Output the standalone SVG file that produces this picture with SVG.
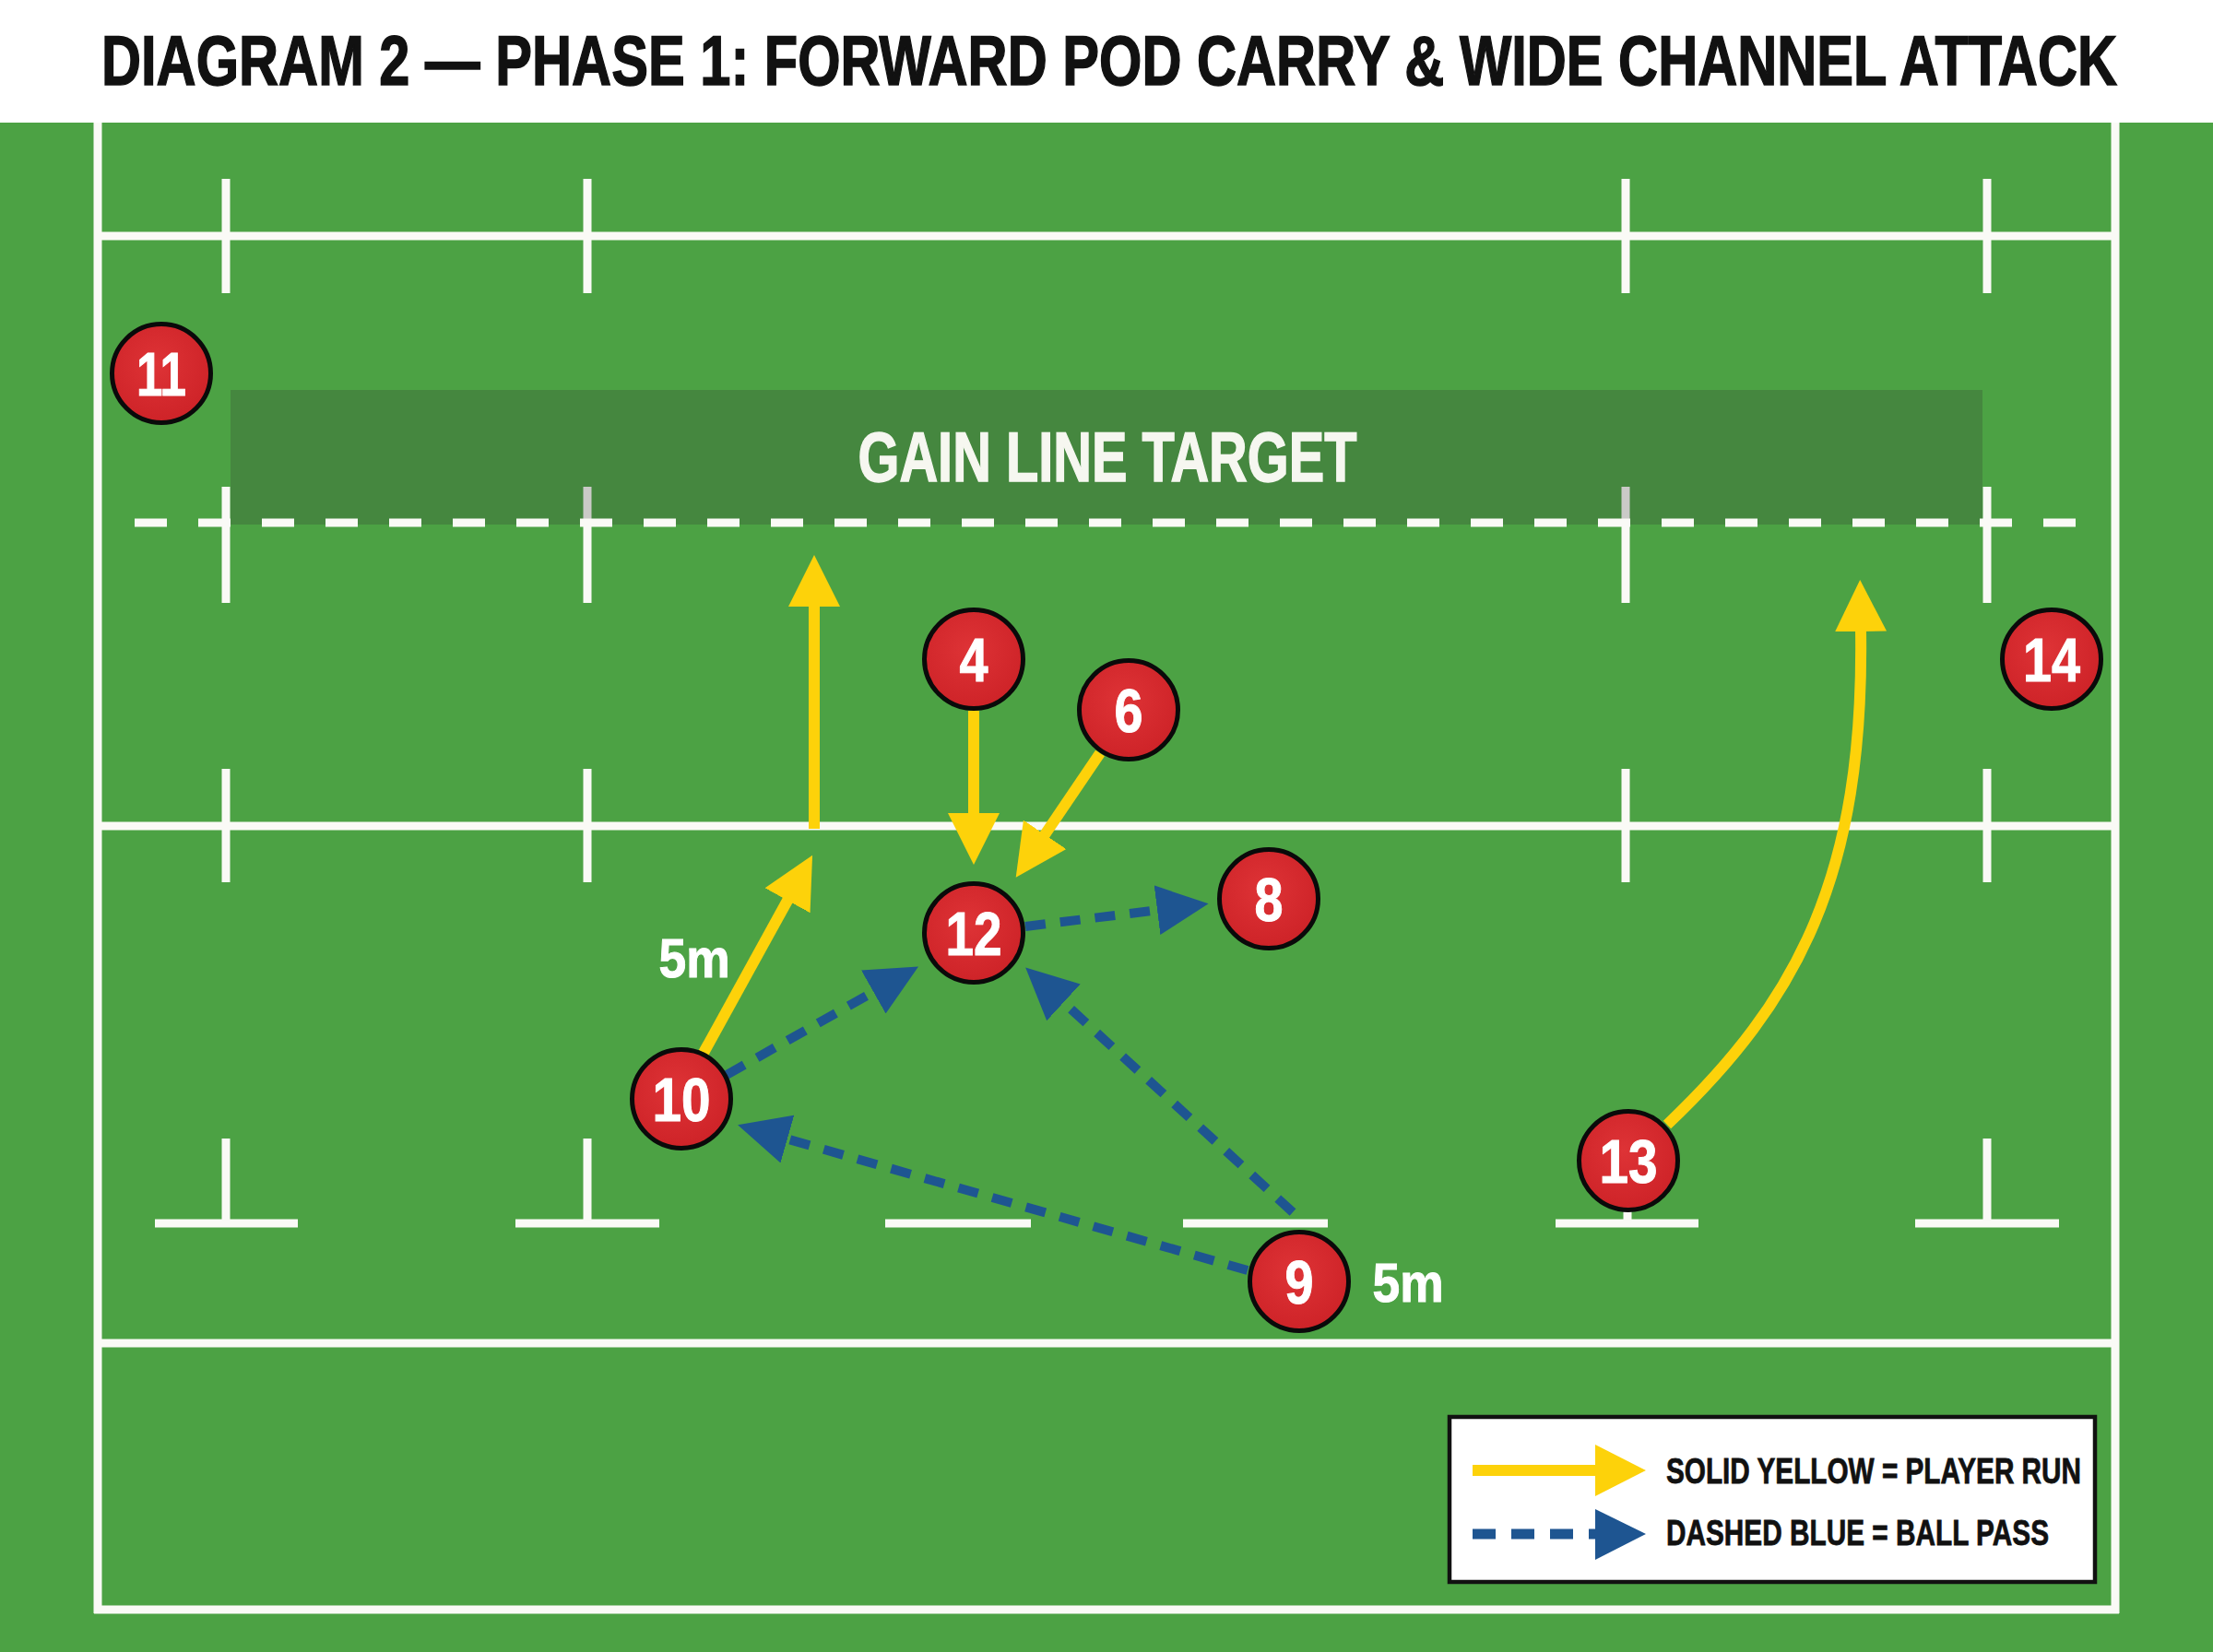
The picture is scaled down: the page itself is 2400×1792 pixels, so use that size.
<svg xmlns="http://www.w3.org/2000/svg" width="2400" height="1792" viewBox="0 0 2400 1792">
  <defs>
    <style>
      .fl { stroke: #FAFAF6; stroke-width: 9; fill: none; }
      .cond { font-family: 'Liberation Sans Narrow', 'Liberation Sans', Arial, sans-serif; font-weight: bold; }
      .num { font-size: 66px; fill: #FFFFFF; stroke: #FFFFFF; stroke-width: 1; text-anchor: middle; }
      .pc { fill: url(#redg); stroke: #0A0A0A; stroke-width: 5; }
      .run { stroke: #FDD20A; stroke-width: 12; fill: none; marker-end: url(#ahY); }
      .pass { stroke: #1E5591; stroke-width: 10; fill: none; stroke-dasharray: 22 16; marker-end: url(#ahB); }
      .lbl { font-size: 59px; fill: #FFFFFF; stroke: #FFFFFF; stroke-width: 1; text-anchor: middle; }
      .leg { font-size: 38px; fill: #111111; stroke: #111111; stroke-width: 0.8; }
    </style>
    <radialGradient id="redg" cx="0.45" cy="0.4" r="0.6">
      <stop offset="0" stop-color="#DE3336"/>
      <stop offset="1" stop-color="#CE2328"/>
    </radialGradient>
    <marker id="ahY" markerUnits="userSpaceOnUse" markerWidth="56" markerHeight="56" viewBox="0 0 56 56" refX="2" refY="28" orient="auto">
      <path d="M0,0 L56,28 L0,56 z" fill="#FDD20A"/>
    </marker>
    <marker id="ahB" markerUnits="userSpaceOnUse" markerWidth="56" markerHeight="56" viewBox="0 0 56 56" refX="2" refY="28" orient="auto">
      <path d="M0,1 L56,28 L0,55 z" fill="#1E5591"/>
    </marker>
  </defs>

  <!-- Title band -->
  <rect x="0" y="0" width="2400" height="133" fill="#FFFFFF"/>
  <text class="cond" x="1203" y="92" font-size="76" fill="#111111" stroke="#111111" stroke-width="1.5" text-anchor="middle" textLength="2186" lengthAdjust="spacingAndGlyphs">DIAGRAM 2 — PHASE 1: FORWARD POD CARRY &amp; WIDE CHANNEL ATTACK</text>

  <!-- Pitch -->
  <rect x="0" y="133" width="2400" height="1659" fill="#4CA244"/>
  <g id="pitch-lines">
    <line class="fl" x1="106" y1="133" x2="106" y2="1750"/>
    <line class="fl" x1="2294" y1="133" x2="2294" y2="1750"/>
    <line class="fl" x1="102" y1="1746" x2="2298" y2="1746"/>
    <line class="fl" x1="106" y1="256" x2="2294" y2="256"/>
    <line class="fl" x1="106" y1="896" x2="2294" y2="896"/>
    <line class="fl" x1="106" y1="1457" x2="2294" y2="1457"/>
    <line class="fl" x1="245" y1="194" x2="245" y2="318"/>
    <line class="fl" x1="637" y1="194" x2="637" y2="318"/>
    <line class="fl" x1="1763" y1="194" x2="1763" y2="318"/>
    <line class="fl" x1="2155" y1="194" x2="2155" y2="318"/>
    <line class="fl" x1="245" y1="528" x2="245" y2="654"/>
    <line class="fl" x1="637" y1="528" x2="637" y2="654"/>
    <line class="fl" x1="1763" y1="528" x2="1763" y2="654"/>
    <line class="fl" x1="2155" y1="528" x2="2155" y2="654"/>
    <line class="fl" x1="245" y1="834" x2="245" y2="957"/>
    <line class="fl" x1="637" y1="834" x2="637" y2="957"/>
    <line class="fl" x1="1763" y1="834" x2="1763" y2="957"/>
    <line class="fl" x1="2155" y1="834" x2="2155" y2="957"/>
    <line class="fl" x1="245" y1="1235" x2="245" y2="1327"/>
    <line class="fl" x1="168" y1="1327" x2="323" y2="1327"/>
    <line class="fl" x1="637" y1="1235" x2="637" y2="1327"/>
    <line class="fl" x1="559" y1="1327" x2="715" y2="1327"/>
    <line class="fl" x1="960" y1="1327" x2="1118" y2="1327"/>
    <line class="fl" x1="1283" y1="1327" x2="1440" y2="1327"/>
    <line class="fl" x1="1765" y1="1235" x2="1765" y2="1327"/>
    <line class="fl" x1="1687" y1="1327" x2="1842" y2="1327"/>
    <line class="fl" x1="2155" y1="1235" x2="2155" y2="1327"/>
    <line class="fl" x1="2077" y1="1327" x2="2233" y2="1327"/>
  </g>

  <!-- Gain line target zone -->
  <g id="gain-line">
    <rect x="250" y="423" width="1900" height="146" fill="#333333" fill-opacity="0.24"/>
    <line x1="146" y1="567" x2="2256" y2="567" stroke="#FAFAF6" stroke-width="9" stroke-dasharray="35 34"/>
    <text class="cond" x="1201" y="522" font-size="76" fill="#F6F7F0" stroke="#F6F7F0" stroke-width="1.5" text-anchor="middle" textLength="541" lengthAdjust="spacingAndGlyphs">GAIN LINE TARGET</text>
  </g>

  <!-- Connectors -->
  <g id="connectors">
    <path class="run" d="M883,899 L883,656"/>
    <path class="run" d="M763,1142 L855,975"/>
    <path class="run" d="M1056,771 L1056,884"/>
    <path class="run" d="M1193,817 L1132,907"/>
    <path class="run" d="M1808,1220 C1950,1085 2022,950 2018,683"/>
    <path class="pass" d="M1112,1005 L1257,987"/>
    <path class="pass" d="M788,1166 L949,1075"/>
    <path class="pass" d="M1402,1315 L1152,1086"/>
    <path class="pass" d="M1353,1378 L852,1235"/>
  </g>

  <!-- Distance labels -->
  <text class="cond lbl" x="753" y="1060" textLength="77" lengthAdjust="spacingAndGlyphs">5m</text>
  <text class="cond lbl" x="1527" y="1412" textLength="77" lengthAdjust="spacingAndGlyphs">5m</text>

  <!-- Players -->
  <g id="p11"><circle class="pc" cx="175" cy="405" r="53.5"/><text class="cond num" x="175" y="429" textLength="54" lengthAdjust="spacingAndGlyphs">11</text></g>
  <g id="p4"><circle class="pc" cx="1056" cy="715" r="53.5"/><text class="cond num" x="1056" y="739" textLength="31" lengthAdjust="spacingAndGlyphs">4</text></g>
  <g id="p6"><circle class="pc" cx="1224" cy="770" r="53.5"/><text class="cond num" x="1224" y="794" textLength="31" lengthAdjust="spacingAndGlyphs">6</text></g>
  <g id="p14"><circle class="pc" cx="2225" cy="715" r="53.5"/><text class="cond num" x="2225" y="739" textLength="62" lengthAdjust="spacingAndGlyphs">14</text></g>
  <g id="p12"><circle class="pc" cx="1056" cy="1012" r="53.5"/><text class="cond num" x="1056" y="1036" textLength="61" lengthAdjust="spacingAndGlyphs">12</text></g>
  <g id="p8"><circle class="pc" cx="1376" cy="975" r="53.5"/><text class="cond num" x="1376" y="999" textLength="31" lengthAdjust="spacingAndGlyphs">8</text></g>
  <g id="p10"><circle class="pc" cx="739" cy="1192" r="53.5"/><text class="cond num" x="739" y="1216" textLength="63" lengthAdjust="spacingAndGlyphs">10</text></g>
  <g id="p13"><circle class="pc" cx="1766" cy="1259" r="53.5"/><text class="cond num" x="1766" y="1283" textLength="63" lengthAdjust="spacingAndGlyphs">13</text></g>
  <g id="p9"><circle class="pc" cx="1409" cy="1390" r="53.5"/><text class="cond num" x="1409" y="1414" textLength="31" lengthAdjust="spacingAndGlyphs">9</text></g>

  <!-- Legend -->
  <g id="legend">
    <rect x="1572" y="1537" width="700" height="179" fill="#FFFFFF" stroke="#111111" stroke-width="4.5"/>
    <line x1="1597" y1="1595" x2="1732" y2="1595" stroke="#FDD20A" stroke-width="12"/>
    <path d="M1730,1567 L1785,1595 L1730,1623 z" fill="#FDD20A"/>
    <line x1="1597" y1="1664" x2="1732" y2="1664" stroke="#1E5591" stroke-width="11" stroke-dasharray="25 17"/>
    <path d="M1730,1637 L1785,1664 L1730,1692 z" fill="#1E5591"/>
    <text class="cond leg" x="1807" y="1609" textLength="450" lengthAdjust="spacingAndGlyphs">SOLID YELLOW = PLAYER RUN</text>
    <text class="cond leg" x="1807" y="1676" textLength="415" lengthAdjust="spacingAndGlyphs">DASHED BLUE = BALL PASS</text>
  </g>
</svg>
